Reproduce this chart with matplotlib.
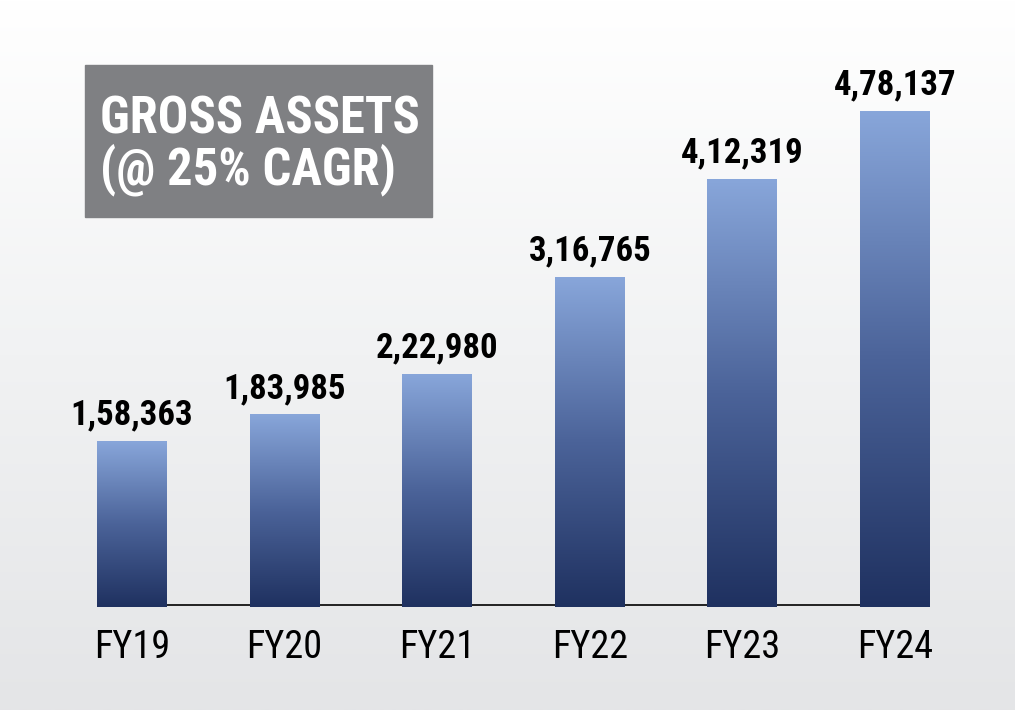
import numpy as np
import matplotlib
matplotlib.use("Agg")
import matplotlib.pyplot as plt
from matplotlib.colors import LinearSegmentedColormap
from matplotlib.patches import Rectangle

years = ["FY19", "FY20", "FY21", "FY22", "FY23", "FY24"]
values = [158363, 183985, 222980, 316765, 412319, 478137]
labels = ["1,58,363", "1,83,985", "2,22,980", "3,16,765", "4,12,319", "4,78,137"]
title_lines = ["GROSS ASSETS", "(@ 25% CAGR)"]

FONT = ["Roboto Condensed", "DejaVu Sans"]

W, H = 1015, 710
fig = plt.figure(figsize=(W / 100, H / 100), dpi=100)

# background gradient, white at top to light grey at bottom
bg = fig.add_axes([0, 0, 1, 1])
bg.set_axis_off()
grad = np.linspace(0, 1, 256).reshape(-1, 1)
bg_cmap = LinearSegmentedColormap.from_list("bg", ["#ffffff", "#f1f2f3", "#e4e5e7"])
bg.imshow(grad, aspect="auto", cmap=bg_cmap, extent=[0, 1, 0, 1])
bg.set_xlim(0, 1)
bg.set_ylim(0, 1)

# title box
bg.add_patch(Rectangle((85 / W, 1 - 217 / H), 347 / W, 152 / H, color="#7f8083"))
for line, base in zip(title_lines, [133, 184]):
    bg.text(100 / W, 1 - base / H, line, color="white", fontsize=36.5, fontweight="bold",
            family=FONT, ha="left", va="baseline")

ax = fig.add_axes([0, 0, 1, 1])
ax.set_axis_off()
x = np.arange(len(years))
step = 152.6
x0 = 132
px = 968.0

bw = 70 / step
bar_cmap = LinearSegmentedColormap.from_list("bar", ["#1f3160", "#4b6399", "#88a6da"])
for xi, v, lab, yr in zip(x, values, labels, years):
    ax.imshow(grad[::-1], aspect="auto", cmap=bar_cmap,
              extent=[xi - bw / 2, xi + bw / 2, -2 * px, v], zorder=2)
    ax.text(xi, v + 17 * px, lab, ha="center", va="baseline", fontsize=25,
            fontweight="bold", family=FONT, color="black", zorder=3)
    ax.text(xi, -53 * px, yr, ha="center", va="baseline", fontsize=27.5,
            family=FONT, color="black", zorder=3)

ax.hlines(0, x[0] - bw / 2, x[-1] + bw / 2, color="black", lw=1.2, zorder=1)
ax.set_xlim(-x0 / step, (W - x0) / step)
ax.set_ylim(-105 * px, (H - 105) * px)

fig.savefig("out.png", dpi=100)
